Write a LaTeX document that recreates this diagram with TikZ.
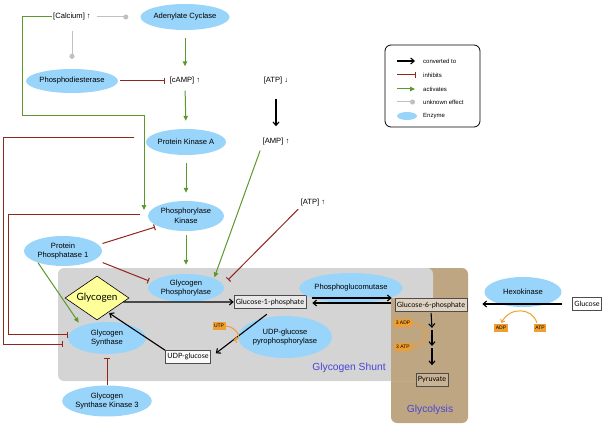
\documentclass[tikz,border=0pt]{standalone}
\usepackage{fontspec}
\setmainfont{Liberation Sans}
\newfontfamily\gill{Lato}
\usetikzlibrary{arrows.meta,shapes.geometric,calc}
\definecolor{enz}{RGB}{153,212,250}
\definecolor{actc}{RGB}{92,152,44}
\definecolor{inhc}{RGB}{145,38,28}
\definecolor{unkc}{RGB}{192,192,192}
\definecolor{shuntc}{RGB}{212,212,212}
\definecolor{tanc}{RGB}{191,166,131}
\definecolor{orgc}{RGB}{240,158,48}
\definecolor{lblc}{RGB}{70,70,215}
\definecolor{diac}{RGB}{255,255,153}
\tikzset{
 enzyme/.style={ellipse, fill=enz, inner sep=0pt, align=center, font=\fontsize{7.6}{9.5}\selectfont},
 conc/.style={inner sep=1pt, font=\fontsize{7.6}{9}\selectfont},
 mol/.style={draw=black!70, line width=0.6pt, fill=white, fill opacity=0.5, text opacity=1, inner sep=2pt, minimum height=13pt, font=\gill\fontsize{7.2}{8}\selectfont},
 cof/.style={fill=orgc, inner sep=1.5pt, minimum height=8pt, font=\fontsize{5}{6}\selectfont},
 conv/.style={line width=1.1pt, -{Straight Barb[length=3.5pt,width=6pt]}},
 actv/.style={actc, line width=1pt, -{Triangle[length=5pt,width=4.5pt]}},
 inhb/.style={inhc, line width=1pt, -{Bar[width=6pt]}},
 unkn/.style={unkc, line width=1pt, -{Circle[length=5pt]}},
 orng/.style={orgc, line width=1pt, -{Straight Barb[length=2.5pt,width=5pt]}},
 leglbl/.style={anchor=west, inner sep=0pt, font=\fontsize{6}{7}\selectfont},
 region/.style={text=lblc, font=\fontsize{10.3}{12}\selectfont},
}
\begin{document}
\begin{tikzpicture}[x=1pt,y=-1pt]
\useasboundingbox (0,0) rectangle (605,425);
% background regions
\fill[tanc, rounded corners=6pt] (391,268) rectangle (468,423);
\fill[shuntc, rounded corners=6pt] (58,268) rectangle (433,381);
\fill[tanc] (391,298) rectangle (433,381);
\node[region] (shunt) at (349,368) {Glycogen Shunt};
\node[region] (glyco) at (430,410) {Glycolysis};

% legend
\node[draw, line width=0.8pt, rounded corners=6pt, minimum width=95pt, minimum height=82pt] (leg) at (432.5,86) {};
\node[leglbl] (t1) at (423,61) {converted to};
\node[leglbl] (t2) at (423,75) {inhibits};
\node[leglbl] (t3) at (423,89) {activates};
\node[leglbl] (t4) at (423,102) {unknown effect};
\node[leglbl] (t5) at (423,116) {Enzyme};
\coordinate (l1) at (397,61);
\coordinate (l2) at (397,75);
\coordinate (l3) at (397,89);
\coordinate (l4) at (397,102);
\node[ellipse, fill=enz, minimum width=20pt, minimum height=8pt, inner sep=0pt] (le) at (407,116) {};
\draw[conv, shorten >=8pt] (l1) -- (t1.west);
\draw[inhb, shorten >=7pt] (l2) -- (t2.west);
\draw[actv, shorten >=8pt] (l3) -- (t3.west);
\draw[unkn, shorten >=8pt] (l4) -- (t4.west);

% nodes
\node[conc] (ca) at (72,17) {[Calcium] ↑};
\node[enzyme, minimum width=78pt, minimum height=26pt] (ac) at (185,17) {Adenylate Cyclase};
\node[enzyme, minimum width=78pt, minimum height=24pt] (pde) at (72,81) {Phosphodiesterase};
\node[conc] (camp) at (185,81) {[cAMP] ↑};
\node[conc] (atpd) at (276,81) {[ATP] ↓};
\node[conc] (amp) at (276,142) {[AMP] ↑};
\node[enzyme, minimum width=80pt, minimum height=26pt] (pka) at (186,142) {Protein Kinase A};
\node[enzyme, minimum width=76pt, minimum height=30pt] (phk) at (186,216) {Phosphorylase\\Kinase};
\node[enzyme, minimum width=78pt, minimum height=30pt] (pp1) at (63,251) {Protein\\Phosphatase 1};
\node[conc] (atpu) at (313,203) {[ATP] ↑};
\node[diamond, draw=black, line width=0.6pt, fill=diac, shape aspect=1.45, minimum width=64pt, minimum height=44pt, inner sep=0pt, font=\gill\fontsize{10}{12}\selectfont] (glyc) at (97,298) {Glycogen};
\node[enzyme, minimum width=76pt, minimum height=28pt] (gp) at (186,288) {Glycogen\\Phosphorylase};
\node[mol] (g1p) at (270,302) {Glucose-1-phosphate};
\node[enzyme, minimum width=82pt, minimum height=30pt] (pgm) at (351,288) {Phosphoglucomutase};
\node[mol] (g6p) at (431,305) {Glucose-6-phosphate};
\node[enzyme, minimum width=77pt, minimum height=30pt] (hk) at (523,292) {Hexokinase};
\node[mol, fill opacity=1] (glu) at (587,304) {Glucose};
\node[cof] (adp) at (501,328) {ADP};
\node[cof] (atp) at (540,328) {ATP};
\node[cof] (adp3) at (403,323) {3 ADP};
\node[cof] (atp3) at (403,347) {3 ATP};
\node[mol, fill opacity=0.15] (pyr) at (432,380) {Pyruvate};
\node[enzyme, minimum width=94pt, minimum height=42pt] (ugp) at (285,337) {UDP-glucose\\pyrophosphorylase};
\node[cof] (utp) at (219,326) {UTP};
\node[mol, fill opacity=0.9] (udpg) at (188,357) {UDP-glucose};
\node[enzyme, minimum width=78pt, minimum height=32pt] (gs) at (107,338) {Glycogen\\Synthase};
\node[enzyme, minimum width=83pt, minimum height=31pt] (gsk) at (107,401) {Glycogen\\Synthase Kinase 3};

% unknown effects
\draw[unkn, shorten <=5pt, shorten >=12pt] (ca.east) -- (ac.west);
\draw[unkn, shorten <=9pt, shorten >=10pt] (ca.south) -- (pde.north);

% activation chain
\coordinate (gA) at (22,116);
\coordinate (gB) at (144,116);
\coordinate (gC) at (144,210);
\draw[actv] (ca.west) -- (ca.west -| gA) -- (gA) -- (gB) -- (gC);
\draw[actv, shorten <=8pt, shorten >=10pt] (ac.south) -- (camp.north);
\draw[actv, shorten <=5pt, shorten >=8pt] (camp.south) -- (pka.north);
\draw[actv, shorten <=8pt, shorten >=8pt] (pka.south) -- (phk.north);
\draw[actv, shorten <=4pt, shorten >=9pt] (phk.south) -- (gp.north);
\draw[inhb, shorten <=2pt, shorten >=4pt] (pde.east) -- (camp.west);
\draw[conv, shorten <=13pt, shorten >=11pt] (atpd.south) -- (amp.north);
\draw[actv, shorten <=4pt, shorten >=1pt] (amp.south west) -- (gp.19);
\draw[inhb, shorten <=2pt, shorten >=7pt] (atpu.south west) -- (gp.5);

% protein phosphatase 1
\draw[inhb, shorten <=4pt, shorten >=3pt] (pp1.10) -- (phk.200);
\draw[inhb, shorten <=8pt, shorten >=3pt] (pp1.-15) -- (gp.170);
\draw[actv, shorten >=4pt] (pp1.205) -- (gs.155);

% feedback to glycogen synthase
\coordinate (r1) at (3,0);
\coordinate (r2) at (8,0);
\draw[inhb, shorten <=14pt, shorten >=8pt] (pka.173) -- (pka.173 -| r1) -- (r1 |- gs.190) -- (gs.190);
\draw[inhb, shorten <=8pt, shorten >=1pt] (phk.177) -- (phk.177 -| r2) -- (r2 |- gs.175) -- (gs.175);
\draw[inhb, shorten >=4pt] (gsk.north) -- (gs.south);

% conversions
\draw[conv] ($(glyc.east)!0.18!(glyc.south)$) -- (g1p.west);
\draw[conv] ([xshift=6pt,yshift=4pt]g1p.east) -- ([xshift=-3pt,yshift=7pt]g6p.west);
\draw[conv] ([xshift=-4pt,yshift=2pt]g6p.west) -- ([xshift=6pt,yshift=-1pt]g1p.east);
\draw[conv, shorten <=10pt, shorten >=15pt] (glu.west) -- ([yshift=1pt]g6p.east);
\coordinate (d1) at (432,328);
\coordinate (d2) at (432,346);
\draw[conv, shorten <=1pt] (g6p.south) -- (d1);
\draw[conv, shorten <=2pt] (d1) -- (d2);
\draw[conv, shorten <=2pt, shorten >=8pt] (d2) -- (pyr.north);
\draw[conv, shorten <=9pt, shorten >=6pt] (g1p.-60) -- (udpg.east);
\draw[conv, shorten >=1pt] (udpg.north west) -- ($(glyc.east)!0.65!(glyc.south)$);

% cofactors
\draw[orng] (utp.east) .. controls (238,327) and (242,340) .. ([xshift=8pt,yshift=-14pt]utp.east);
\draw[orng, shorten >=1pt] (adp3.east) .. controls (428,324) and (432,342) .. (atp3.east);
\draw[orng, shorten <=1pt, shorten >=1pt] ([xshift=-3pt]atp.north) .. controls (533,308) and (510,306) .. (adp.north);
\end{tikzpicture}
\end{document}
